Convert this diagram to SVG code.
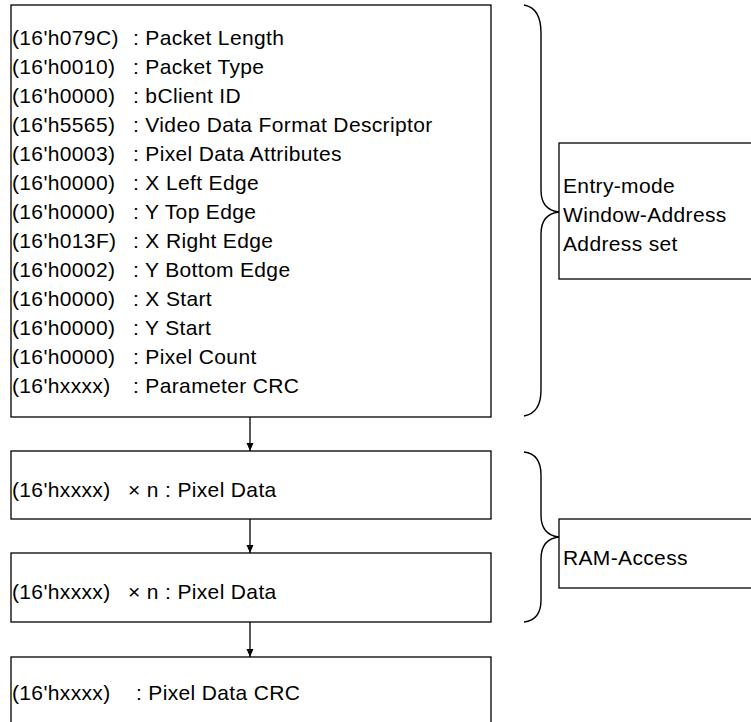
<svg xmlns="http://www.w3.org/2000/svg" width="751" height="722" viewBox="0 0 751 722">
<defs>
<style>
.box{fill:#fff;stroke:#000;stroke-width:1.3}
.t{font-family:"Liberation Sans",Arial,sans-serif;font-size:21px;fill:#000;letter-spacing:0.35px}
.c{fill:none;stroke:#000;stroke-width:1.3}
.br{fill:none;stroke:#000;stroke-width:1.4}
</style>
<marker id="ah" viewBox="0 0 8 8" refX="8" refY="4" markerWidth="8" markerHeight="8" markerUnits="userSpaceOnUse" orient="auto">
<path d="M0,0.5 L8,4 L0,7.5 Z" fill="#000"/>
</marker>
</defs>
<rect width="751" height="722" fill="#fff"/>
<g id="connectors">
<line class="c" x1="250" y1="417" x2="250" y2="451" marker-end="url(#ah)"/>
<line class="c" x1="250" y1="519" x2="250" y2="553" marker-end="url(#ah)"/>
<line class="c" x1="250" y1="622" x2="250" y2="657" marker-end="url(#ah)"/>
</g>
<g id="brace1">
<path class="br" d="M524,5 Q541,8 541,33 L541,190 Q541,210 559,212 Q541,214 541,234 L541,390 Q541,413 524,416"/>
</g>
<g id="brace2">
<path class="br" d="M524,452 Q541,454 541,475 L541,515 Q541,535 559,537 Q541,539 541,559 L541,600 Q541,620 524,622"/>
</g>
<g id="params">
<rect class="box" x="11" y="5" width="480" height="412"/>
<text class="t" x="12" y="45">(16'h079C)<tspan x="133">: Packet Length</tspan></text>
<text class="t" x="12" y="74">(16'h0010)<tspan x="133">: Packet Type</tspan></text>
<text class="t" x="12" y="103">(16'h0000)<tspan x="133">: bClient ID</tspan></text>
<text class="t" x="12" y="132">(16'h5565)<tspan x="133">: Video Data Format Descriptor</tspan></text>
<text class="t" x="12" y="161">(16'h0003)<tspan x="133">: Pixel Data Attributes</tspan></text>
<text class="t" x="12" y="190">(16'h0000)<tspan x="133">: X Left Edge</tspan></text>
<text class="t" x="12" y="219">(16'h0000)<tspan x="133">: Y Top Edge</tspan></text>
<text class="t" x="12" y="248">(16'h013F)<tspan x="133">: X Right Edge</tspan></text>
<text class="t" x="12" y="277">(16'h0002)<tspan x="133">: Y Bottom Edge</tspan></text>
<text class="t" x="12" y="306">(16'h0000)<tspan x="133">: X Start</tspan></text>
<text class="t" x="12" y="335">(16'h0000)<tspan x="133">: Y Start</tspan></text>
<text class="t" x="12" y="364">(16'h0000)<tspan x="133">: Pixel Count</tspan></text>
<text class="t" x="12" y="393">(16'hxxxx)<tspan x="133">: Parameter CRC</tspan></text>
</g>
<g id="pixel1">
<rect class="box" x="11" y="451" width="480" height="68"/>
<text class="t" x="12" y="497">(16'hxxxx)<tspan x="128">× n : Pixel Data</tspan></text>
</g>
<g id="pixel2">
<rect class="box" x="11" y="553" width="480" height="69"/>
<text class="t" x="12" y="599">(16'hxxxx)<tspan x="128">× n : Pixel Data</tspan></text>
</g>
<g id="crc">
<rect class="box" x="11" y="657" width="480" height="80"/>
<text class="t" x="12" y="700">(16'hxxxx)<tspan x="136">: Pixel Data CRC</tspan></text>
</g>
<g id="entry">
<rect class="box" x="559" y="143" width="200" height="136"/>
<text class="t" x="563" y="193">Entry-mode</text>
<text class="t" x="563" y="222">Window-Address</text>
<text class="t" x="563" y="251">Address set</text>
</g>
<g id="ram">
<rect class="box" x="559" y="519" width="200" height="69"/>
<text class="t" x="563" y="565">RAM-Access</text>
</g>
</svg>
